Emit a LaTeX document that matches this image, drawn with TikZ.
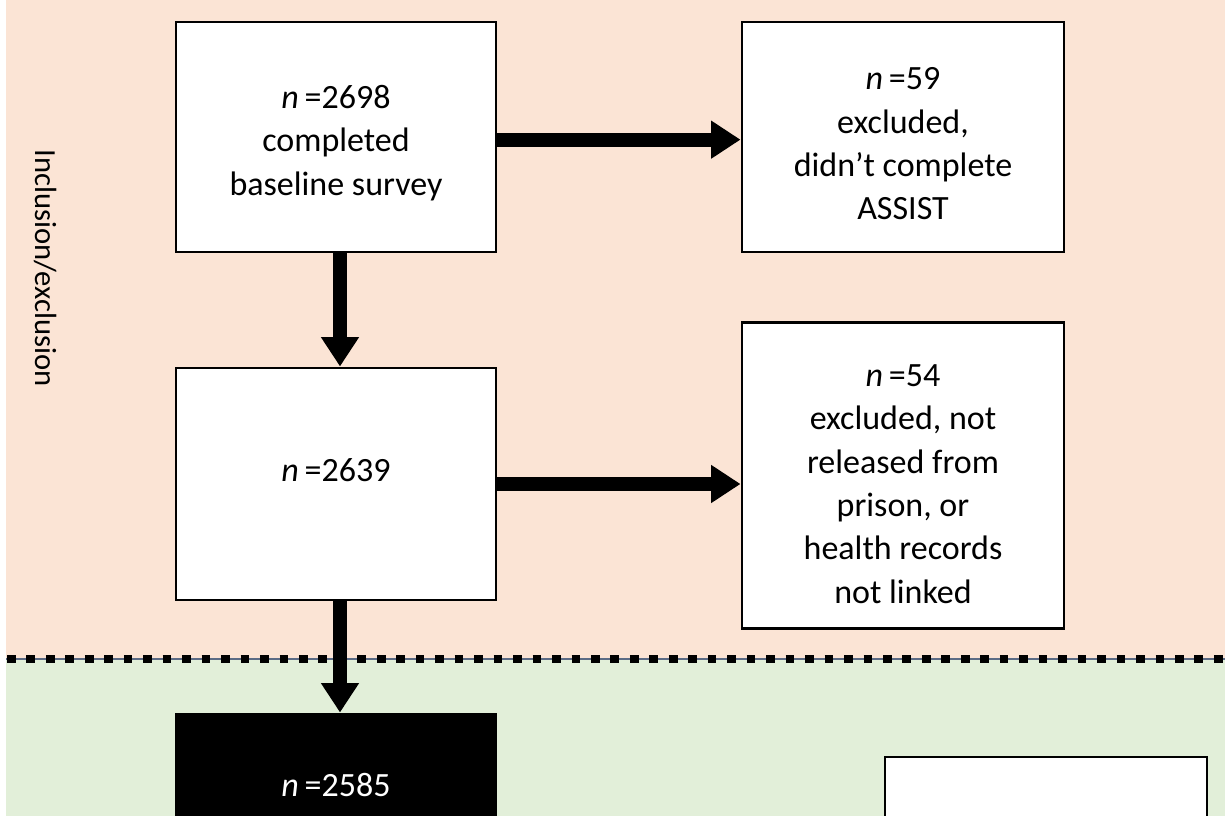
\documentclass[tikz,border=0pt]{standalone}
\usepackage{fontspec}
\setmainfont{Carlito}
\usetikzlibrary{arrows.meta}
\definecolor{peach}{HTML}{FBE4D5}
\definecolor{mint}{HTML}{E2EFD9}
\definecolor{dashblue}{HTML}{5B6B85}
\begin{document}
\begin{tikzpicture}[x=0.75pt,y=-0.75pt,
  box/.style={draw=black,line width=2.2pt,fill=white,rectangle,inner sep=0pt},
  flow/.style={line width=10.5pt,-{Triangle[length=22pt,width=27pt]}},
  txt/.style={font=\fontsize{25.5}{32.5}\selectfont,align=center,inner sep=0pt}]
\useasboundingbox (0,0) rectangle (1225,816);
\clip (0,0) rectangle (1225,816);
\fill[white] (0,0) rectangle (1225,816);
\fill[peach] (6,0) rectangle (1225,659);
\fill[mint] (6,659) rectangle (1225,816);
\draw[dashblue,line width=1.2pt] (6,659) -- (1225,659);
\draw[black,line width=6.5pt,dash pattern=on 6.5pt off 8.1pt] (7,659) -- (1225,659);

\node[txt,font=\fontsize{23}{28}\selectfont,rotate=-90] (lab) at (45,268) {Inclusion/exclusion};

\node[box,minimum width=240pt,minimum height=172.5pt] (b1) at (336,137) {};
\node[txt] (t1) at (336,143) {\textit{n}\,=2698\\completed\\baseline survey};
\node[box,minimum width=241.5pt,minimum height=172.5pt] (b2) at (903,137) {};
\node[txt] (t2) at (903,144) {\textit{n}\,=59\\excluded,\\didn’t complete\\ASSIST};
\node[box,minimum width=240pt,minimum height=174pt] (b3) at (336,484) {};
\node[txt] (t3) at (336,470) {\textit{n}\,=2639};
\node[box,minimum width=241.5pt,minimum height=229pt] (b4) at (903,475.5) {};
\node[txt] (t4) at (903,484) {\textit{n}\,=54\\excluded, not\\released from\\prison, or\\health records\\not linked};
\node[box,fill=black,minimum width=240pt,minimum height=106.5pt] (b5) at (336,785) {};
\node[txt,text=white] (t5) at (336,785) {\textit{n}\,=2585};
\node[box,minimum width=241.5pt,minimum height=120pt] (b6) at (1046,837) {};

\draw[flow] ([yshift=-2pt]b1.east) -- ([yshift=-2pt]b2.west);
\draw[flow] ([xshift=3pt]b1.south) -- ([xshift=3pt]b3.north);
\draw[flow] (b3.east) -- (b3.east -| b4.west);
\draw[flow] ([xshift=3pt]b3.south) -- ([xshift=3pt]b5.north);
\end{tikzpicture}
\end{document}
